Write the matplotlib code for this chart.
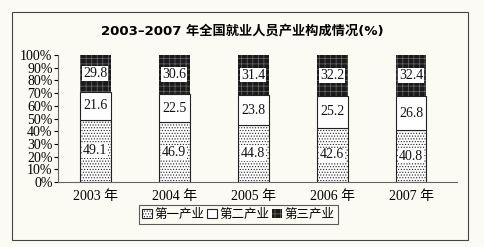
import matplotlib
matplotlib.use("Agg")
import matplotlib.pyplot as plt
import numpy as np
from matplotlib.patches import Rectangle

years = ["2003 年", "2004 年", "2005 年", "2006 年", "2007 年"]
primary = [49.1, 46.9, 44.8, 42.6, 40.8]
secondary = [21.6, 22.5, 23.8, 25.2, 26.8]
tertiary = [29.8, 30.6, 31.4, 32.2, 32.4]
series_names = ["第一产业", "第二产业", "第三产业"]

plt.rcParams["font.family"] = ["Liberation Serif", "Noto Sans CJK SC"]
plt.rcParams["hatch.linewidth"] = 0.5
bg = "#fcfbf3"

fig = plt.figure(figsize=(4.84, 2.47), dpi=100, facecolor=bg)
ax = fig.add_axes([0.12, 0.263, 0.824, 0.514], facecolor=bg)

x = np.arange(len(years))
w = 0.39
b1 = ax.bar(x, primary, w, color="white", edgecolor="#222222", hatch="......",
            linewidth=0.8, label=series_names[0])
b2 = ax.bar(x, secondary, w, bottom=primary, color="white", edgecolor="#222222",
            linewidth=0.8, label=series_names[1])
bottom3 = np.array(primary) + np.array(secondary)
b3 = ax.bar(x, tertiary, w, bottom=bottom3, color="#1a1a1a", edgecolor="#6a6a6a",
            hatch="+++", linewidth=0.0, label=series_names[2])

for bars, vals, bots in [(b1, primary, np.zeros(5)), (b2, secondary, np.array(primary)),
                         (b3, tertiary, bottom3)]:
    for xi, v, bt in zip(x, vals, bots):
        ax.text(xi, bt + v / 2, f"{v:.1f}", ha="center", va="center", fontsize=10,
                color="#111111",
                bbox=dict(boxstyle="square,pad=0.05", fc="white", ec="none"))

ax.set_ylim(0, 100)
ax.set_xlim(-0.47, 4.58)
ax.set_yticks(np.arange(0, 101, 10))
ax.set_yticklabels([f"{v}%" for v in range(0, 101, 10)], fontsize=10)
ax.set_xticks(x)
ax.set_xticklabels(years, fontsize=10)
ax.tick_params(axis="x", length=0, pad=6)
ax.tick_params(axis="y", length=3, pad=1)
for s in ["top", "right"]:
    ax.spines[s].set_visible(False)
ax.spines["left"].set_color("#666666")
ax.spines["bottom"].set_color("#666666")

fig.text(0.5, 0.875, "2003–2007 年全国就业人员产业构成情况(%)", ha="center", va="center",
         fontsize=9.5, fontweight="bold", family=["DejaVu Sans", "Noto Sans CJK SC"])

leg = fig.legend(handles=[b1, b2, b3], labels=series_names, loc="center",
                 bbox_to_anchor=(0.492, 0.132), ncol=3, frameon=True, fancybox=False,
                 handlelength=0.8, handleheight=0.8, handletextpad=0.2,
                 columnspacing=0.2, borderpad=0.25, prop={"family": ["Noto Sans CJK SC"], "size": 9})
leg.get_frame().set_edgecolor("#333333")
leg.get_frame().set_linewidth(0.8)
leg.get_frame().set_facecolor(bg)

fig.patches.append(Rectangle((0.025, 0.028), 0.942, 0.923, transform=fig.transFigure,
                             fill=False, edgecolor="#444444", linewidth=0.8))

fig.savefig("out.png", dpi=100, facecolor=bg)
